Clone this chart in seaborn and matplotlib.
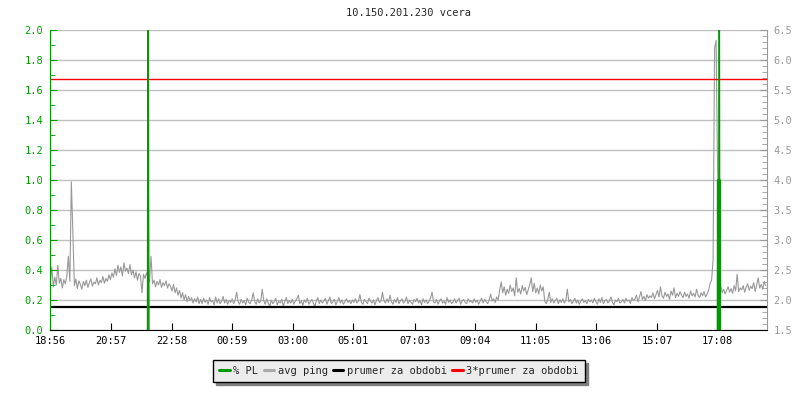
import numpy as np
import pandas as pd
import seaborn as sns
import matplotlib.pyplot as plt
from matplotlib.lines import Line2D
from matplotlib.ticker import MultipleLocator, FormatStrFormatter

# avg ping [ms], one sample every 3 minutes starting at 18:56 (one row = 1 hour)
ping_ms = [
    2.30, 2.55, 2.22, 2.38, 2.25, 2.58, 2.28, 2.36, 2.20, 2.34, 2.27, 2.40, 2.73, 2.31, 3.97, 3.14, 2.24, 2.35, 2.19, 2.32,
    2.26, 2.18, 2.31, 2.24, 2.33, 2.21, 2.29, 2.35, 2.23, 2.30, 2.27, 2.37, 2.25, 2.33, 2.29, 2.39, 2.28, 2.36, 2.31, 2.42,
    2.34, 2.45, 2.38, 2.52, 2.41, 2.58, 2.46, 2.55, 2.40, 2.62, 2.48, 2.53, 2.44, 2.59, 2.42, 2.50, 2.37, 2.47, 2.33, 2.44,
    2.40, 2.12, 2.43, 2.36, 2.45, 2.38, 2.30, 2.73, 2.27, 2.33, 2.22, 2.31, 2.25, 2.34, 2.21, 2.29, 2.24, 2.32, 2.20, 2.27,
    2.23, 2.15, 2.26, 2.12, 2.20, 2.08, 2.16, 2.03, 2.12, 2.00, 2.09, 1.97, 2.06, 1.99, 2.04, 1.95, 2.02, 1.97, 2.05, 1.94,
    2.01, 1.94, 2.03, 1.96, 2.00, 1.93, 2.04, 1.97, 1.99, 1.92, 2.05, 1.95, 2.02, 1.94, 1.98, 2.06, 1.95, 2.01, 1.93, 1.99,
    1.96, 2.02, 1.94, 2.00, 2.13, 1.97, 1.93, 2.01, 1.95, 1.99, 1.92, 2.03, 1.96, 1.94, 2.00, 2.12, 1.97, 1.93, 2.02, 1.95,
    1.98, 2.18, 1.99, 1.93, 2.02, 1.95, 1.89, 2.00, 1.94, 1.97, 2.03, 1.92, 1.98, 1.95, 2.01, 1.90, 1.97, 2.04, 1.94, 1.99,
    1.95, 2.01, 1.93, 1.98, 2.02, 2.08, 1.94, 1.99, 1.91, 2.00, 1.96, 2.03, 1.93, 1.97, 2.01, 1.95, 1.89, 1.99, 2.04, 1.94,
    2.00, 1.95, 1.98, 2.03, 1.93, 1.99, 2.05, 1.94, 1.97, 2.01, 1.92, 1.98, 2.04, 1.95, 2.00, 1.93, 1.97, 2.02, 1.96, 1.99,
    1.94, 2.00, 1.96, 2.02, 1.95, 1.98, 2.09, 1.96, 1.93, 2.01, 1.97, 1.94, 2.03, 1.98, 1.95, 2.00, 1.92, 1.99, 2.04, 1.96,
    1.98, 2.13, 1.99, 1.95, 2.02, 1.96, 2.08, 1.97, 1.93, 2.01, 1.96, 2.04, 1.94, 1.99, 2.02, 1.95, 1.98, 2.05, 1.94, 2.00,
    1.96, 1.93, 2.01, 1.97, 2.03, 1.95, 1.99, 1.92, 2.02, 1.96, 2.00, 1.94, 1.98, 2.03, 2.13, 1.97, 1.95, 2.01, 1.93, 1.99,
    2.02, 1.95, 1.98, 1.93, 2.04, 1.96, 2.00, 1.94, 1.97, 2.02, 1.95, 1.99, 2.03, 1.93, 1.98, 2.01, 1.96, 1.94, 2.02, 1.97,
    1.99, 1.95, 2.02, 1.96, 2.00, 1.93, 1.98, 2.03, 1.95, 2.01, 1.97, 1.94, 2.00, 2.10, 1.98, 2.02, 1.96, 2.05, 2.00, 2.17,
    2.30, 2.12, 2.22, 2.08, 2.18, 2.11, 2.25, 2.14, 2.20, 2.07, 2.37, 2.13, 2.19, 2.10, 2.24, 2.15, 2.21, 2.09, 2.17, 2.26,
    2.37, 2.14, 2.28, 2.12, 2.20, 2.10, 2.25, 2.15, 2.22, 1.98, 1.94, 2.01, 2.13, 1.96, 2.02, 1.95, 1.99, 2.03, 1.94, 2.00,
    1.96, 2.02, 1.95, 1.99, 2.18, 1.97, 2.01, 1.94, 1.98, 2.03, 1.95, 2.00, 1.93, 1.98, 2.02, 1.96, 1.99, 1.94, 2.01, 1.97,
    2.00, 1.95, 2.03, 1.97, 1.93, 2.02, 1.96, 2.04, 1.94, 1.99, 2.01, 1.95, 1.98, 2.05, 1.96, 1.92, 2.00, 1.97, 2.03, 1.95,
    1.97, 2.01, 1.95, 2.03, 1.98, 2.00, 1.94, 2.04, 1.99, 2.02, 2.08, 1.97, 2.05, 2.14, 2.01, 2.06, 1.99, 2.09, 2.03, 2.07,
    2.04, 2.12, 2.02, 2.09, 2.16, 2.05, 2.22, 2.07, 2.03, 2.13, 2.06, 2.10, 2.01, 2.15, 2.08, 2.20, 2.04, 2.11, 2.06, 2.14,
    2.08, 2.04, 2.13, 2.06, 2.10, 2.03, 2.15, 2.07, 2.11, 2.05, 2.18, 2.08, 2.04, 2.12, 2.07, 2.14, 2.05, 2.10, 2.16, 2.28,
    2.33, 2.67, 6.20, 6.33, 4.10, 3.55, 2.25, 2.12, 2.18, 2.10, 2.16, 2.22, 2.13, 2.19, 2.11, 2.24, 2.15, 2.43, 2.14, 2.20,
    2.17, 2.24, 2.13, 2.21, 2.27, 2.16, 2.23, 2.19, 2.29, 2.14, 2.25, 2.37, 2.20, 2.26, 2.18, 2.31, 2.24,
]
ping_minutes = [3 * i for i in range(len(ping_ms))]

# packet loss [%], only around the two events (zero elsewhere)
pl_minutes = [194, 195, 196, 197,
              1331.5, 1332, 1332.5, 1333, 1333.5, 1334, 1334.5, 1335.3,
              1336, 1336.5, 1337, 1337.5]
pl_values = [0, 3.0, 1.0, 0,
             0, 1.0, 0, 1.0, 0, 1.0, 0, 3.0,
             1.0, 0, 1.0, 0]
pl_event = [1] * 4 + [2] * 12

mean_ping = 1.89
three_mean_ping = 5.69

tick_labels = ['18:56', '20:57', '22:58', '00:59', '03:00', '05:01',
               '07:03', '09:04', '11:05', '13:06', '15:07', '17:08']
period_minutes = 1430

title = '10.150.201.230 vcera'

green = '#009900'
green_txt = '#00a000'
gray = '#999999'

sns.set_style('white')
plt.rcParams['font.family'] = ['DejaVu Sans Mono']
plt.rcParams['font.size'] = 7.5

# tick positions: minutes after 18:56
def to_minutes(lbl):
    h, m = map(int, lbl.split(':'))
    t = h * 60 + m - (18 * 60 + 56)
    return t % 1440
tick_pos = [to_minutes(l) for l in tick_labels]

fig = plt.figure(figsize=(8, 4), dpi=100)
ax = fig.add_axes([50.3 / 800, 70 / 400, 716.4 / 800, 300 / 400])
ax2 = ax.twinx()
ax.set_zorder(ax2.get_zorder() + 1)
ax.patch.set_visible(False)

df_ping = pd.DataFrame({'minute': ping_minutes, 'ping': ping_ms})
df_pl = pd.DataFrame({'minute': pl_minutes, 'pl': pl_values, 'event': pl_event})

# right axis: ping
ax2.set_ylim(1.5, 6.5)
ax2.yaxis.set_major_locator(MultipleLocator(0.5))
ax2.yaxis.set_minor_locator(MultipleLocator(0.1))
ax2.yaxis.set_major_formatter(FormatStrFormatter('%.1f'))
ax2.grid(True, which='major', axis='y', color='#c0c0c0', lw=1)
ax2.set_axisbelow(True)
sns.lineplot(data=df_ping, x='minute', y='ping', ax=ax2, color=gray, lw=0.8,
             estimator=None, zorder=3)
ax2.axhline(mean_ping, color='black', lw=1.6, zorder=4)
ax2.axhline(three_mean_ping, color='#ff0000', lw=1.0, zorder=4)
ax2.set_ylabel('')
for s in ['top', 'left', 'bottom']:
    ax2.spines[s].set_visible(False)
ax2.spines['right'].set_color(gray)
ax2.tick_params(axis='y', which='both', direction='in', colors=gray,
                labelcolor=gray, pad=5, right=True, left=False)
ax2.tick_params(axis='y', which='major', length=5)
ax2.tick_params(axis='y', which='minor', length=3.5)

# left axis: packet loss
ax.set_ylim(0, 2.0)
ax.yaxis.set_major_locator(MultipleLocator(0.2))
ax.yaxis.set_minor_locator(MultipleLocator(0.1))
ax.yaxis.set_major_formatter(FormatStrFormatter('%.1f'))
sns.lineplot(data=df_pl, x='minute', y='pl', units='event', ax=ax,
             color=green, lw=1.0, estimator=None)
ax.set_xlim(0, period_minutes)
ax.set_xticks(tick_pos)
ax.set_xticklabels(tick_labels)
ax.set_xlabel('')
ax.set_ylabel('')
ax.spines['top'].set_visible(False)
ax.spines['right'].set_visible(False)
ax.spines['left'].set_color(green)
ax.spines['bottom'].set_color('black')
ax.tick_params(axis='y', which='both', direction='in', colors=green,
               labelcolor=green_txt, pad=5, left=True)
ax.tick_params(axis='y', which='major', length=5)
ax.tick_params(axis='y', which='minor', length=3.5)
ax.tick_params(axis='x', direction='in', length=5, color='black',
               labelcolor='black', pad=4, bottom=True)

fig.text(408.5 / 800, 1 - 13 / 400, title, ha='center', va='center',
         fontsize=7.5)

handles = [Line2D([], [], color=green, lw=2.2),
           Line2D([], [], color='#aaaaaa', lw=2.2),
           Line2D([], [], color='black', lw=2.2),
           Line2D([], [], color='#ff0000', lw=2.2)]
labels = ['% PL', 'avg ping', 'prumer za obdobi', '3*prumer za obdobi']
leg = fig.legend(handles, labels, loc='center', ncol=4,
                 bbox_to_anchor=(399 / 800, 1 - 371 / 400),
                 frameon=True, fancybox=False, edgecolor='black',
                 facecolor='#ececec', framealpha=1, handlelength=1.0,
                 handletextpad=0.35, columnspacing=0.5, borderpad=0.6,
                 shadow={'color': '#808080', 'alpha': 1}, fontsize=7.5)
leg.get_frame().set_linewidth(1)

fig.savefig('out.png', dpi=100)
